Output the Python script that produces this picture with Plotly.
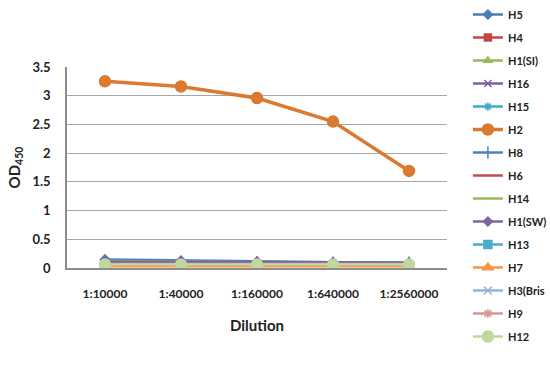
import plotly.graph_objects as go

categories = ["1:10000", "1:40000", "1:160000", "1:640000", "1:2560000"]

series_names = ["H5", "H4", "H1(SI)", "H16", "H15", "H2", "H8", "H6", "H14",
                "H1(SW)", "H13", "H7", "H3(Bris", "H9", "H12"]

H5 = [0.15, 0.13, 0.11, 0.10, 0.09]
H4 = [0.07, 0.06, 0.05, 0.05, 0.05]
H1_SI = [0.12, 0.11, 0.10, 0.09, 0.08]
H16 = [0.08, 0.08, 0.08, 0.08, 0.08]
H15 = [0.06, 0.06, 0.06, 0.06, 0.06]
H2 = [3.25, 3.16, 2.96, 2.55, 1.69]
H8 = [0.10, 0.10, 0.09, 0.09, 0.09]
H6 = [0.05, 0.05, 0.05, 0.04, 0.04]
H14 = [0.09, 0.09, 0.08, 0.08, 0.07]
H1_SW = [0.11, 0.11, 0.11, 0.10, 0.09]
H13 = [0.04, 0.04, 0.04, 0.04, 0.04]
H7 = [0.03, 0.03, 0.03, 0.02, 0.03]
H3_Bris = [0.07, 0.07, 0.07, 0.07, 0.07]
H9 = [0.06, 0.06, 0.06, 0.06, 0.06]
H12 = [0.06, 0.06, 0.06, 0.06, 0.06]

values = [H5, H4, H1_SI, H16, H15, H2, H8, H6, H14, H1_SW, H13, H7, H3_Bris, H9, H12]

styles = [
    ("#4A7EBB", "diamond", 7),
    ("#BE4B48", "square", 7),
    ("#98B954", "triangle-up", 7),
    ("#7D60A0", "x-thin-open", 7),
    ("#46AAC5", "asterisk-open", 7),
    ("#D97A30", "circle", 11),
    ("#4F81BD", "line-ns-open", 9),
    ("#C0504D", "line-ew-open", 6),
    ("#9BBB59", "line-ew-open", 6),
    ("#8064A2", "diamond", 7),
    ("#4BACC6", "square", 8),
    ("#F79646", "triangle-up", 9),
    ("#95B3D7", "x-thin-open", 8),
    ("#D99694", "asterisk-open", 8),
    ("#C3D69B", "circle", 11),
]

fig = go.Figure()
for i, (name, vals, (col, sym, sz)) in enumerate(zip(series_names, values, styles)):
    lw = 3.5 if name == "H2" else 2.5
    fig.add_trace(go.Scatter(
        x=categories, y=vals, name=name, mode="lines+markers",
        line=dict(color=col, width=lw),
        marker=dict(symbol=sym, size=sz, color=col, line=dict(color=col, width=1.5)),
        legendgroup="g%d" % i,
    ))

fig.update_layout(
    width=550, height=369,
    margin=dict(l=67, r=103, t=67, b=101, autoexpand=False),
    plot_bgcolor="white", paper_bgcolor="white",
    font=dict(family="Lato", size=12, color="#222222"),
    showlegend=True,
    legend=dict(
        x=1.055, xanchor="left", yref="container", y=1.0, yanchor="top",
        maxheight=1.0,
        font=dict(family="Lato", size=11, color="#222222", weight="bold"),
        tracegroupgap=4, itemwidth=30,
        bgcolor="rgba(0,0,0,0)",
    ),
    xaxis=dict(
        type="category", range=[-0.5, 4.5], automargin=False,
        showline=True, linecolor="#8C8C8C", linewidth=1.5,
        showgrid=False, ticks="outside", ticklen=14, tickcolor="rgba(0,0,0,0)",
        tickfont=dict(family="Lato", size=12, color="#222222", weight="bold"),
        title=dict(text="<b>Dilution</b>", font=dict(family="Lato", size=15, color="#222222"), standoff=20),
    ),
    yaxis=dict(
        range=[0, 3.5], dtick=0.5, tickformat="~g", automargin=False,
        showline=True, linecolor="#8C8C8C", linewidth=1.5,
        showgrid=True, gridcolor="#A6A6A6", gridwidth=1,
        zeroline=False, ticks="outside", ticklen=12, tickcolor="rgba(0,0,0,0)",
        tickfont=dict(family="Lato", size=13, color="#222222", weight="bold"),
        title=dict(text="<b>OD<sub>450</sub></b>", font=dict(family="Lato", size=15, color="#222222"), standoff=8),
    ),
)

fig.write_html("out.html")
